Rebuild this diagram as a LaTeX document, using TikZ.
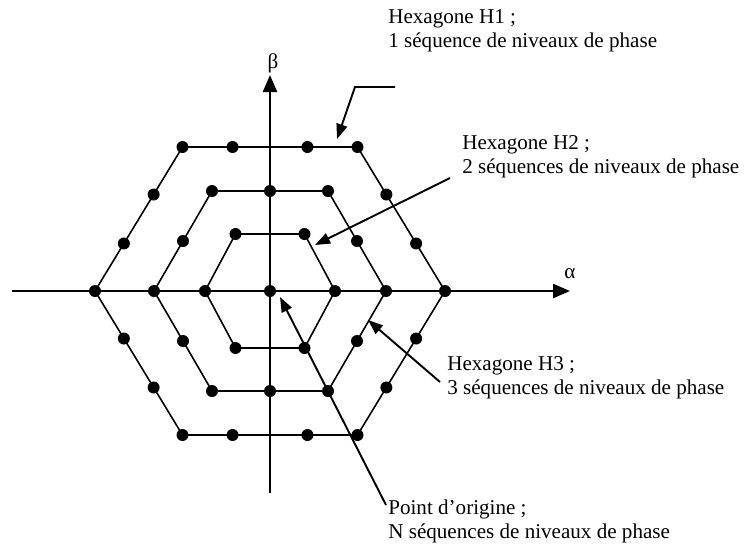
\documentclass[tikz,border=0pt]{standalone}
\usepackage{fontspec}
\setmainfont{Liberation Serif}
\usetikzlibrary{arrows.meta,calc}

\tikzset{
  axisline/.style={line width=1.4pt, -{Triangle[length=0.34cm,width=0.28cm]}},
  hexline/.style={line width=0.9pt, line join=round},
  callout/.style={line width=1.1pt, -{Triangle[length=0.3cm,width=0.22cm]}},
  legend/.style={align=left, anchor=west, inner sep=0pt, font=\fontsize{12}{13.7}\selectfont},
  axislabel/.style={inner sep=0pt, font=\fontsize{12}{14}\selectfont},
}

\begin{document}
\begin{tikzpicture}[>=Latex, scale=1.0]
  \useasboundingbox (-5.4,-5.2) rectangle (9.5,5.82);
  % hexagon corners
  \coordinate (O1) at (3.5,0);     \coordinate (O2) at (1.75,2.88);  \coordinate (O3) at (-1.75,2.88);
  \coordinate (O4) at (-3.5,0);    \coordinate (O5) at (-1.75,-2.88); \coordinate (O6) at (1.75,-2.88);
  \coordinate (M1) at (2.32,0);    \coordinate (M2) at (1.16,2.0);   \coordinate (M3) at (-1.16,2.0);
  \coordinate (M4) at (-2.32,0);   \coordinate (M5) at (-1.16,-2.0); \coordinate (M6) at (1.16,-2.0);
  \coordinate (I1) at (1.3,0);     \coordinate (I2) at (0.69,1.14);  \coordinate (I3) at (-0.69,1.14);
  \coordinate (I4) at (-1.3,0);    \coordinate (I5) at (-0.69,-1.14); \coordinate (I6) at (0.69,-1.14);
  \draw[hexline] (O1) -- (O2) -- (O3) -- (O4) -- (O5) -- (O6) -- cycle;
  \draw[hexline] (M1) -- (M2) -- (M3) -- (M4) -- (M5) -- (M6) -- cycle;
  \draw[hexline] (I1) -- (I2) -- (I3) -- (I4) -- (I5) -- (I6) -- cycle;
  % axes
  \coordinate (Aleft) at (-5.16,0);
  \coordinate (Aright) at (6.0,0);
  \coordinate (Bbottom) at (0,-4.04);
  \coordinate (Btop) at (0,4.32);
  \draw[axisline] (Aleft) -- (Aright);
  \draw[axisline] (Bbottom) -- (Btop);
  \node[axislabel] (alpha) at (6.0,0.34) {α};
  \node[axislabel] (beta) at (0.06,4.56) {β};
  % phase level points
  \fill (0,0) circle (0.12);
  \foreach \p in {O1,O2,O3,O4,O5,O6,M1,M2,M3,M4,M5,M6,I1,I2,I3,I4,I5,I6}
    \fill (\p) circle (0.12);
  \foreach \a/\b in {M1/M2,M2/M3,M3/M4,M4/M5,M5/M6,M6/M1}
    \fill ($(\a)!0.5!(\b)$) circle (0.12);
  \foreach \a/\b in {O1/O2,O3/O4,O4/O5,O6/O1}
    \fill ($(\a)!0.33!(\b)$) circle (0.12) ($(\a)!0.67!(\b)$) circle (0.12);
  \foreach \a/\b in {O2/O3,O5/O6}
    \fill ($(\a)!0.286!(\b)$) circle (0.12) ($(\a)!0.714!(\b)$) circle (0.12);
  % legends
  \node[legend] (H1text) at (2.36,5.2) {Hexagone H1 ;\\1 séquence de niveaux de phase};
  \node[legend] (H2text) at (3.84,2.68) {Hexagone H2 ;\\2 séquences de niveaux de phase};
  \node[legend] (H3text) at (3.54,-1.74) {Hexagone H3 ;\\3 séquences de niveaux de phase};
  \node[legend] (Otext) at (2.36,-4.6) {Point d’origine ;\\N séquences de niveaux de phase};
  % callout arrows
  \coordinate (H1start) at (2.5,4.08);
  \coordinate (H1knee) at (1.7,4.08);
  \coordinate (H1tip) at (1.34,3.04);
  \coordinate (H2start) at (3.6,2.26);
  \coordinate (H2tip) at (0.9,0.92);
  \coordinate (H3start) at (3.4,-1.82);
  \coordinate (H3tip) at (1.96,-0.58);
  \coordinate (Ostart) at (2.32,-4.28);
  \coordinate (Otip) at (0.2,-0.12);
  \draw[callout] (H1start) -- (H1knee) -- (H1tip);
  \draw[callout] (H2start) -- (H2tip);
  \draw[callout] (H3start) -- (H3tip);
  \draw[callout] (Ostart) -- (Otip);
\end{tikzpicture}
\end{document}
